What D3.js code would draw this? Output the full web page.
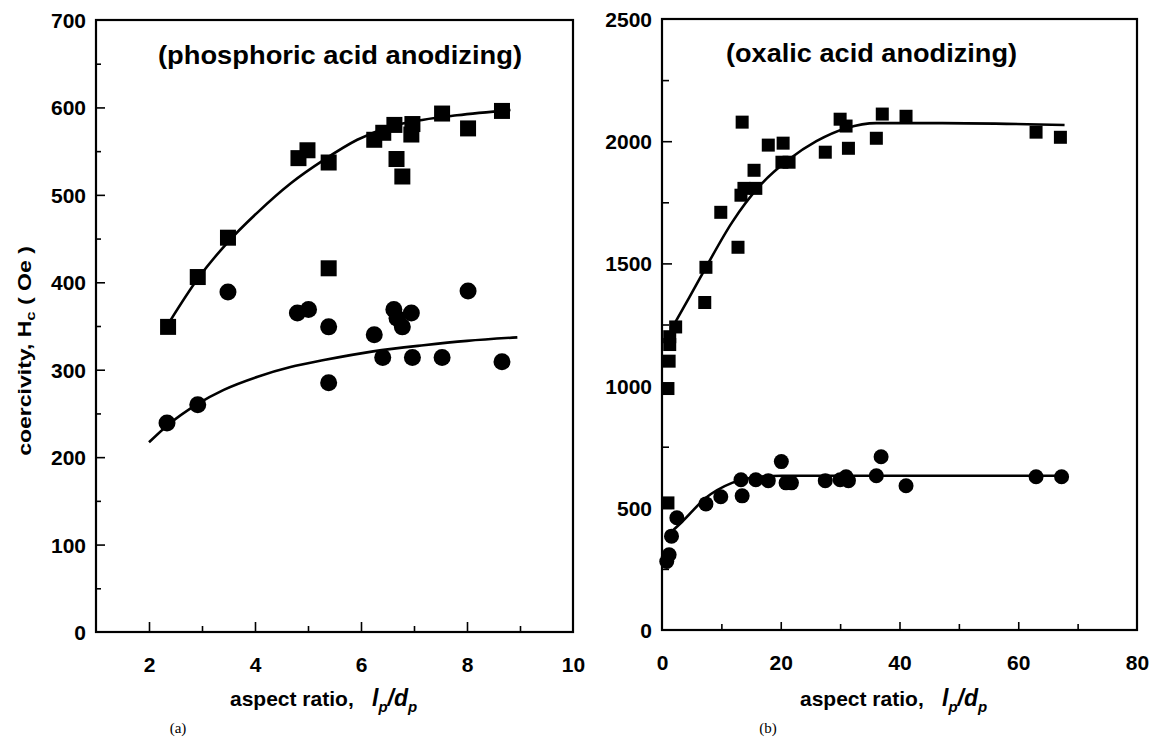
<!DOCTYPE html>
<html>
<head>
<meta charset="utf-8">
<script src="https://cdn.jsdelivr.net/npm/d3@7"></script>
<style>
  body { margin: 0; background: #fff; }
  svg { display: block; }
  text { font-family: "Liberation Sans", Arial, sans-serif; font-weight: bold; fill: #000; }
</style>
</head>
<body>
<svg id="chart" width="1151" height="742"></svg>
<script>
// (a) phosphoric acid anodizing: [aspect ratio, coercivity Oe]
var aPhosSquares = [[2.36,349],[2.92,406],[3.49,451],[4.82,542],[4.99,551],[5.39,537],[5.39,416],
	[6.25,563],[6.42,571],[6.63,580],[6.67,541],[6.78,521],[6.95,569],[6.97,581],[7.53,593],[8.02,576],[8.66,596]];
var aPhosCircles = [[2.34,239],[2.92,260],[3.49,389],[4.80,365],[5.01,369],[5.39,349],[5.39,285],
	[6.25,340],[6.41,314],[6.62,369],[6.68,359],[6.78,349],[6.95,365],[6.97,314],[7.53,314],[8.02,390],[8.66,309]];
var aPhosSquareFit = [[2.41,357],[2.92,404],[3.49,446],[4.05,480],[4.67,513],[5.3,540],[5.93,563],
	[6.55,578],[7.18,586],[7.81,591],[8.82,597]];
var aPhosCircleFit = [[2.0,217],[2.34,236],[2.92,261],[3.41,277],[4.05,292],[4.67,303],[5.3,311],
	[6.23,321],[7.18,328],[8.0,333],[8.95,337]];

// (b) oxalic acid anodizing
var aOxSquares = [[1.0,988],[1.2,1100],[1.3,1168],[1.3,1200],[2.3,1240],[1.0,520],[7.2,1340],[7.4,1484],
	[9.9,1709],[12.8,1566],[13.3,1779],[13.5,2078],[13.8,1807],[15.5,1881],[15.8,1807],[17.9,1984],
	[20.2,1914],[20.4,1992],[21.4,1914],[27.5,1955],[30.0,2090],[31.0,2062],[31.4,1971],[36.1,2012],
	[37.1,2111],[41.1,2102],[63.0,2037],[67.1,2016]];
var aOxCircles = [[0.8,280],[1.2,308],[1.6,384],[2.5,459],[7.4,516],[9.9,545],[13.5,549],[13.3,615],
	[15.8,615],[17.9,611],[20.1,689],[20.9,602],[21.8,602],[27.5,611],[30.0,615],[31.0,627],[31.4,611],
	[36.1,631],[36.9,709],[41.1,590],[63.0,627],[67.3,627]];
var aOxSquareFit = [[2.3,1262],[4.6,1361],[7.4,1484],[11.8,1668],[16.4,1816],[21.4,1926],[26.0,2000],
	[31.0,2053],[36.1,2074],[47.2,2074],[67.8,2066]];
var aOxCircleFit = [[0.6,380],[3.4,443],[7.4,541],[11.8,602],[16.4,627],[20.2,631],[67.8,631]];

// tick values
var aPhosXTicks = [2, 4, 6, 8, 10], aPhosXMinor = [3, 5, 7, 9];
var aPhosYTicks = [0, 100, 200, 300, 400, 500, 600, 700], aPhosYMinor = [50, 150, 250, 350, 450, 550, 650];
var aOxXTicks = [0, 20, 40, 60, 80], aOxXMinor = [10, 30, 50, 70];
var aOxYTicks = [0, 500, 1000, 1500, 2000, 2500], aOxYMinor = [250, 750, 1250, 1750, 2250];

var svg = d3.select("#chart");

function drawPanel(o) {
	var x = d3.scaleLinear().domain(o.xDomain).range([o.left, o.right]);
	var y = d3.scaleLinear().domain(o.yDomain).range([o.bottom, o.top]);
	var g = svg.append("g");

	// inward ticks, major then minor
	var gx = g.append("g").attr("transform", "translate(0," + o.bottom + ")")
		.call(d3.axisBottom(x).tickValues(o.xTicks).tickFormat(d3.format("d"))
			.tickSizeInner(-o.xMajor).tickSizeOuter(0).tickPadding(25));
	g.append("g").attr("transform", "translate(0," + o.bottom + ")")
		.call(d3.axisBottom(x).tickValues(o.xMinor).tickSize(-o.xMinorLen).tickFormat(""));
	var gy = g.append("g").attr("transform", "translate(" + o.left + ",0)")
		.call(d3.axisLeft(y).tickValues(o.yTicks).tickFormat(d3.format("d"))
			.tickSizeInner(-o.yMajor).tickSizeOuter(0).tickPadding(10));
	g.append("g").attr("transform", "translate(" + o.left + ",0)")
		.call(d3.axisLeft(y).tickValues(o.yMinor).tickSize(-o.yMinorLen).tickFormat(""));

	g.selectAll(".domain").remove();
	g.selectAll(".tick line").attr("stroke", "#000").attr("stroke-width", 1.6);
	gx.selectAll("text").style("font-size", "21px");
	gy.selectAll("text").style("font-size", "21px").attr("dy", "0.36em");
	// the tick at the frame edge carries no mark
	gx.selectAll(".tick").filter(function (d) { return d === o.xDomain[1] || d === o.xDomain[0]; }).select("line").remove();
	gy.selectAll(".tick").filter(function (d) { return d === o.yDomain[1] || d === o.yDomain[0]; }).select("line").remove();

	g.append("rect")
		.attr("x", o.left).attr("y", o.top)
		.attr("width", o.right - o.left).attr("height", o.bottom - o.top)
		.attr("fill", "none").attr("stroke", "#000").attr("stroke-width", 2.2);

	var line = d3.line().x(function (d) { return x(d[0]); }).y(function (d) { return y(d[1]); })
		.curve(d3.curveMonotoneX);
	[o.squareFit, o.circleFit].forEach(function (aFit) {
		g.append("path").datum(aFit).attr("d", line)
			.attr("fill", "none").attr("stroke", "#000").attr("stroke-width", 2.6);
	});

	g.selectAll("rect.sq").data(o.squares).enter().append("rect")
		.attr("class", "sq")
		.attr("x", function (d) { return x(d[0]) - o.sq / 2; })
		.attr("y", function (d) { return y(d[1]) - o.sq / 2; })
		.attr("width", o.sq).attr("height", o.sq).attr("fill", "#000");
	g.selectAll("circle.ci").data(o.circles).enter().append("circle")
		.attr("class", "ci")
		.attr("cx", function (d) { return x(d[0]); })
		.attr("cy", function (d) { return y(d[1]); })
		.attr("r", o.r).attr("fill", "#000");

	g.append("text").attr("x", o.titleX).attr("y", o.titleY)
		.attr("textLength", o.titleLen).attr("lengthAdjust", "spacingAndGlyphs")
		.style("font-size", "25px").text(o.title);

	// x axis title with italic l_p/d_p
	var t = g.append("text").attr("y", 706).style("font-size", "21px");
	t.append("tspan").attr("x", o.xTitleX).text("aspect ratio,");
	t.append("tspan").attr("x", o.xTitleX + 142).style("font-style", "italic").style("font-size", "23px").text("l");
	t.append("tspan").style("font-style", "italic").style("font-size", "15px").attr("dy", 6).text("p");
	t.append("tspan").style("font-style", "italic").style("font-size", "23px").attr("dy", -6).text("/d");
	t.append("tspan").style("font-style", "italic").style("font-size", "15px").attr("dy", 6).text("p");

	g.append("text").attr("x", o.capX).attr("y", 733)
		.style("font-family", "'Liberation Serif', 'Times New Roman', serif")
		.style("font-weight", "normal").style("font-size", "15px").attr("text-anchor", "middle")
		.text(o.caption);
}

drawPanel({
	xDomain: [1, 10], yDomain: [0, 700], left: 96, right: 573, top: 20, bottom: 632,
	xTicks: aPhosXTicks, xMinor: aPhosXMinor, yTicks: aPhosYTicks, yMinor: aPhosYMinor,
	xMajor: 10, xMinorLen: 6, yMajor: 9, yMinorLen: 5,
	squares: aPhosSquares, circles: aPhosCircles, squareFit: aPhosSquareFit, circleFit: aPhosCircleFit,
	sq: 16, r: 8.5,
	title: "(phosphoric acid anodizing)", titleX: 158, titleY: 64, titleLen: 364,
	xTitleX: 230, capX: 178, caption: "(a)"
});

drawPanel({
	xDomain: [0, 80], yDomain: [0, 2500], left: 662, right: 1137, top: 19, bottom: 630,
	xTicks: aOxXTicks, xMinor: aOxXMinor, yTicks: aOxYTicks, yMinor: aOxYMinor,
	xMajor: 8, xMinorLen: 6, yMajor: 10, yMinorLen: 7,
	squares: aOxSquares, circles: aOxCircles, squareFit: aOxSquareFit, circleFit: aOxCircleFit,
	sq: 13, r: 7.5,
	title: "(oxalic acid anodizing)", titleX: 726, titleY: 62, titleLen: 291,
	xTitleX: 800, capX: 768, caption: "(b)"
});

// shared y axis title, stretched along its length
var yt = svg.append("text").attr("transform", "translate(31,351) rotate(-90) scale(1.28,1)")
	.attr("text-anchor", "middle").style("font-size", "18px");
yt.append("tspan").text("coercivity, H");
yt.append("tspan").style("font-size", "13px").attr("dy", 4).text("c");
yt.append("tspan").attr("dy", -4).attr("dx", 5).text("( Oe )");
</script>
</body>
</html>
